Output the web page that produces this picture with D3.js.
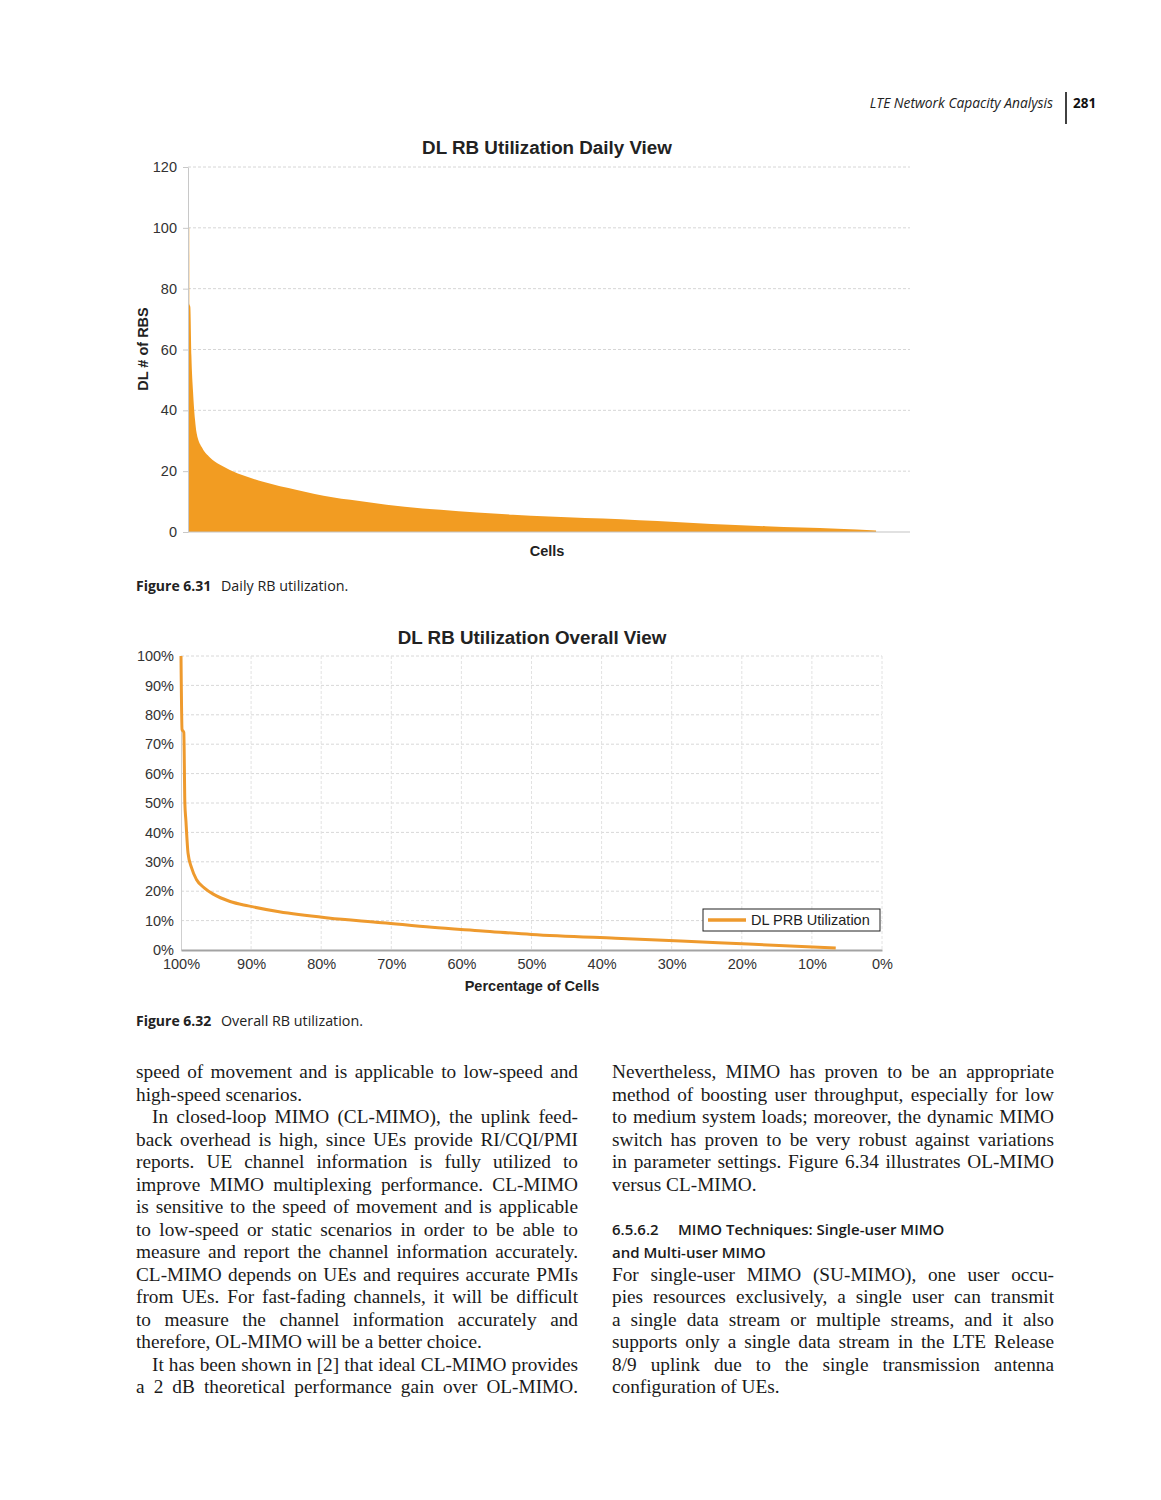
<!DOCTYPE html>
<html><head><meta charset="utf-8">
<script src="https://cdn.jsdelivr.net/npm/d3@7"></script>
<style>body{margin:0;background:#fff} svg{display:block}</style>
</head><body>
<svg id="page" width="1161" height="1500"></svg>
<script>
// ---------- data: Figure 6.31 (daily view) ----------
const dailyCellShare = [0, 0.0017, 0.0019, 0.0032, 0.0047, 0.007, 0.0097, 0.012, 0.02, 0.03, 0.045, 0.058, 0.08, 0.104, 0.151, 0.2, 0.25, 0.3, 0.35, 0.4, 0.45, 0.5, 0.55, 0.6, 0.65, 0.7, 0.75, 0.8, 0.85, 0.9, 0.953];
const dailyRBs       = [100, 100, 75, 74, 58, 46, 37, 32.5, 27.5, 24.6, 22, 20.4, 18.3, 16.5, 13.8, 11.4, 9.8, 8.3, 7.3, 6.4, 5.7, 5.1, 4.6, 4.2, 3.6, 3.0, 2.4, 1.9, 1.5, 1.1, 0.5];
const dailyYTicks = [0, 20, 40, 60, 80, 100, 120];

// ---------- data: Figure 6.32 (overall view) ----------
const overallCellPct = [100, 99.85, 99.6, 99.45, 99.3, 99.0, 98.5, 97.8, 96.6, 95.4, 93, 90.4, 86, 79, 71.3, 64.2, 57, 50, 38, 28.7, 19.1, 6.6];
const overallUtil    = [100, 75, 74, 50, 44, 33, 28, 24, 21, 19, 16.5, 15, 13, 10.9, 9.3, 7.7, 6.5, 5.3, 4.0, 3.1, 2.0, 0.7];
const overallYTicks = [0, 10, 20, 30, 40, 50, 60, 70, 80, 90, 100];
const overallXTicks = [100, 90, 80, 70, 60, 50, 40, 30, 20, 10, 0];
const legendLabel = "DL PRB Utilization";

// ---------- page text ----------
const leftColumn = [
 ["speed of movement and is applicable to low-speed and", 1, 0],
 ["high-speed scenarios.", 0, 0],
 ["In closed-loop MIMO (CL-MIMO), the uplink feed-", 1, 1],
 ["back overhead is high, since UEs provide RI/CQI/PMI", 1, 0],
 ["reports. UE channel information is fully utilized to", 1, 0],
 ["improve MIMO multiplexing performance. CL-MIMO", 1, 0],
 ["is sensitive to the speed of movement and is applicable", 1, 0],
 ["to low-speed or static scenarios in order to be able to", 1, 0],
 ["measure and report the channel information accurately.", 1, 0],
 ["CL-MIMO depends on UEs and requires accurate PMIs", 1, 0],
 ["from UEs. For fast-fading channels, it will be difficult", 1, 0],
 ["to measure the channel information accurately and", 1, 0],
 ["therefore, OL-MIMO will be a better choice.", 0, 0],
 ["It has been shown in [2] that ideal CL-MIMO provides", 1, 1],
 ["a 2 dB theoretical performance gain over OL-MIMO.", 1, 0]
];
const rightColumnTop = [
 ["Nevertheless, MIMO has proven to be an appropriate", 1, 0],
 ["method of boosting user throughput, especially for low", 1, 0],
 ["to medium system loads; moreover, the dynamic MIMO", 1, 0],
 ["switch has proven to be very robust against variations", 1, 0],
 ["in parameter settings. Figure 6.34 illustrates OL-MIMO", 1, 0],
 ["versus CL-MIMO.", 0, 0]
];
const rightColumnBottom = [
 ["For single-user MIMO (SU-MIMO), one user occu-", 1, 0],
 ["pies resources exclusively, a single user can transmit", 1, 0],
 ["a single data stream or multiple streams, and it also", 1, 0],
 ["supports only a single data stream in the LTE Release", 1, 0],
 ["8/9 uplink due to the single transmission antenna", 1, 0],
 ["configuration of UEs.", 0, 0]
];

const ORANGE_FILL = "#F29C22";
const ORANGE_LINE = "#EE9A2E";
const SANS = "'Liberation Sans', Arial, sans-serif";
const CAP = "'Open Sans', 'Noto Sans', sans-serif";
const SERIF = "'Liberation Serif', 'Times New Roman', serif";

const svg = d3.select("#page");
svg.append("rect").attr("width", 1161).attr("height", 1500).attr("fill", "#fff");

// ---------- running header ----------
svg.append("text").attr("x", 1053).attr("y", 107.5).attr("text-anchor", "end")
  .attr("font-family", CAP).attr("font-style", "italic").attr("font-size", 13.8)
  .attr("fill", "#222").text("LTE Network Capacity Analysis");
svg.append("line").attr("x1", 1066).attr("x2", 1066).attr("y1", 92).attr("y2", 124)
  .attr("stroke", "#111").attr("stroke-width", 1.6);
svg.append("text").attr("x", 1073).attr("y", 107.5)
  .attr("font-family", CAP).attr("font-weight", "bold").attr("font-size", 13.5)
  .attr("fill", "#111").text("281");

// ---------- Figure 6.31 ----------
{
  const g = svg.append("g");
  const x = d3.scaleLinear().domain([0, 1]).range([188, 910]);
  const y = d3.scaleLinear().domain([0, 120]).range([532, 167]);

  g.selectAll("line.grid").data(dailyYTicks.filter(d => d > 0)).join("line")
    .attr("x1", x(0)).attr("x2", x(1)).attr("y1", d => y(d)).attr("y2", d => y(d))
    .attr("stroke", "#d6d6d6").attr("stroke-width", 1).attr("stroke-dasharray", "3,2");

  const pts = dailyCellShare.map((c, i) => [c, dailyRBs[i]]);
  g.append("path").datum(pts)
    .attr("d", d3.area().x(d => x(d[0])).y0(y(0)).y1(d => y(d[1])).curve(d3.curveMonotoneX))
    .attr("fill", ORANGE_FILL);

  g.append("line").attr("x1", x(0)).attr("x2", x(1)).attr("y1", y(0)).attr("y2", y(0))
    .attr("stroke", "#c4c4c4").attr("stroke-width", 1.2);

  const ax = g.append("g").attr("transform", `translate(${x(0)},0)`)
    .call(d3.axisLeft(y).tickValues(dailyYTicks).tickSize(5).tickPadding(6).tickSizeOuter(0));
  ax.select(".domain").attr("stroke", "#c8c8c8");
  ax.selectAll(".tick line").attr("stroke", "#c8c8c8");
  ax.selectAll("text").attr("font-family", SANS).attr("font-size", 14.5).attr("fill", "#333");

  g.append("text").attr("x", 547).attr("y", 153.5).attr("text-anchor", "middle")
    .attr("font-family", SANS).attr("font-weight", "bold").attr("font-size", 18.8)
    .attr("fill", "#222").text("DL RB Utilization Daily View");
  g.append("text").attr("x", 547).attr("y", 556).attr("text-anchor", "middle")
    .attr("font-family", SANS).attr("font-weight", "bold").attr("font-size", 14.5)
    .attr("fill", "#222").text("Cells");
  g.append("text").attr("transform", "translate(148,349) rotate(-90)").attr("text-anchor", "middle")
    .attr("font-family", SANS).attr("font-weight", "bold").attr("font-size", 14.5)
    .attr("fill", "#222").text("DL # of RBS");
}

// caption 6.31
svg.append("text").attr("x", 136).attr("y", 591)
  .attr("font-family", CAP).attr("font-weight", "bold").attr("font-size", 14)
  .attr("fill", "#222").text("Figure 6.31");
svg.append("text").attr("x", 221).attr("y", 591)
  .attr("font-family", CAP).attr("font-size", 14.3)
  .attr("fill", "#222").text("Daily RB utilization.");

// ---------- Figure 6.32 ----------
{
  const g = svg.append("g");
  const x = d3.scaleLinear().domain([100, 0]).range([181, 882]);
  const y = d3.scaleLinear().domain([0, 100]).range([950, 656]);

  g.selectAll("line.hgrid").data(overallYTicks.filter(d => d > 0)).join("line")
    .attr("x1", x(100)).attr("x2", x(0)).attr("y1", d => y(d)).attr("y2", d => y(d))
    .attr("stroke", "#d8d8d8").attr("stroke-width", 1).attr("stroke-dasharray", "3,2");
  g.selectAll("line.vgrid").data(overallXTicks.filter(d => d < 100)).join("line")
    .attr("x1", d => x(d)).attr("x2", d => x(d)).attr("y1", y(100)).attr("y2", y(0))
    .attr("stroke", "#e2e2e2").attr("stroke-width", 1).attr("stroke-dasharray", "3,2");

  const ay = g.append("g").attr("transform", `translate(${x(100)},0)`)
    .call(d3.axisLeft(y).tickValues(overallYTicks).tickFormat(d => d + "%").tickSize(0).tickPadding(7));
  ay.select(".domain").attr("stroke", "#cfcfcf");
  ay.selectAll("text").attr("font-family", SANS).attr("font-size", 14.5).attr("fill", "#333");

  const axb = g.append("g").attr("transform", `translate(0,${y(0)})`)
    .call(d3.axisBottom(x).tickValues(overallXTicks).tickFormat(d => d + "%").tickSize(0).tickPadding(8.5));
  axb.select(".domain").attr("stroke", "#a3a3a3").attr("stroke-width", 2.2);
  axb.selectAll("text").attr("font-family", SANS).attr("font-size", 14.5).attr("fill", "#333");

  const pts = overallCellPct.map((c, i) => [c, overallUtil[i]]);
  g.append("path").datum(pts)
    .attr("d", d3.line().x(d => x(d[0])).y(d => y(d[1])).curve(d3.curveMonotoneX))
    .attr("fill", "none").attr("stroke", ORANGE_LINE).attr("stroke-width", 3)
    .attr("stroke-linejoin", "round").attr("stroke-linecap", "butt");

  // legend
  const lg = g.append("g").attr("transform", "translate(703,909)");
  lg.append("rect").attr("width", 177).attr("height", 22).attr("fill", "#fff")
    .attr("stroke", "#222").attr("stroke-width", 1);
  lg.append("line").attr("x1", 5).attr("x2", 43).attr("y1", 11).attr("y2", 11)
    .attr("stroke", ORANGE_LINE).attr("stroke-width", 3.5);
  lg.append("text").attr("x", 48).attr("y", 16)
    .attr("font-family", SANS).attr("font-size", 14.5).attr("fill", "#222").text(legendLabel);

  g.append("text").attr("x", 532).attr("y", 644).attr("text-anchor", "middle")
    .attr("font-family", SANS).attr("font-weight", "bold").attr("font-size", 18.8)
    .attr("fill", "#222").text("DL RB Utilization Overall View");
  g.append("text").attr("x", 532).attr("y", 991).attr("text-anchor", "middle")
    .attr("font-family", SANS).attr("font-weight", "bold").attr("font-size", 14.5)
    .attr("fill", "#222").text("Percentage of Cells");
}

// caption 6.32
svg.append("text").attr("x", 136).attr("y", 1026)
  .attr("font-family", CAP).attr("font-weight", "bold").attr("font-size", 14)
  .attr("fill", "#222").text("Figure 6.32");
svg.append("text").attr("x", 221).attr("y", 1026)
  .attr("font-family", CAP).attr("font-size", 14.3)
  .attr("fill", "#222").text("Overall RB utilization.");

// ---------- body text ----------
function drawLine(x0, yb, width, item) {
  const [txt, justify, indent] = item;
  const x = x0 + (indent ? 16 : 0);
  const w = width - (indent ? 16 : 0);
  const t = svg.append("text").attr("y", yb)
    .attr("font-family", SERIF).attr("font-size", 19.3).attr("fill", "#1a1a1a");
  if (!justify) { t.attr("x", x).text(txt); return; }
  const words = txt.split(" ");
  const spans = words.map(wd => t.append("tspan").text(wd));
  const widths = spans.map(s => s.node().getComputedTextLength());
  const gap = (w - d3.sum(widths)) / (words.length - 1);
  let cx = x;
  spans.forEach((s, i) => { s.attr("x", cx); cx += widths[i] + gap; });
}
leftColumn.forEach((it, i) => drawLine(136, 1078 + 22.5 * i, 442, it));
rightColumnTop.forEach((it, i) => drawLine(612, 1078 + 22.5 * i, 442, it));
rightColumnBottom.forEach((it, i) => drawLine(612, 1280.5 + 22.5 * i, 442, it));

svg.append("text").attr("x", 612).attr("y", 1234.5)
  .attr("font-family", CAP).attr("font-weight", 600).attr("font-size", 15)
  .attr("fill", "#1a1a1a").text("6.5.6.2");
svg.append("text").attr("x", 678).attr("y", 1234.5)
  .attr("font-family", CAP).attr("font-weight", 600).attr("font-size", 15)
  .attr("fill", "#1a1a1a").text("MIMO Techniques: Single-user MIMO");
svg.append("text").attr("x", 612).attr("y", 1257.5)
  .attr("font-family", CAP).attr("font-weight", 600).attr("font-size", 15)
  .attr("fill", "#1a1a1a").text("and Multi-user MIMO");
</script>
</body></html>
